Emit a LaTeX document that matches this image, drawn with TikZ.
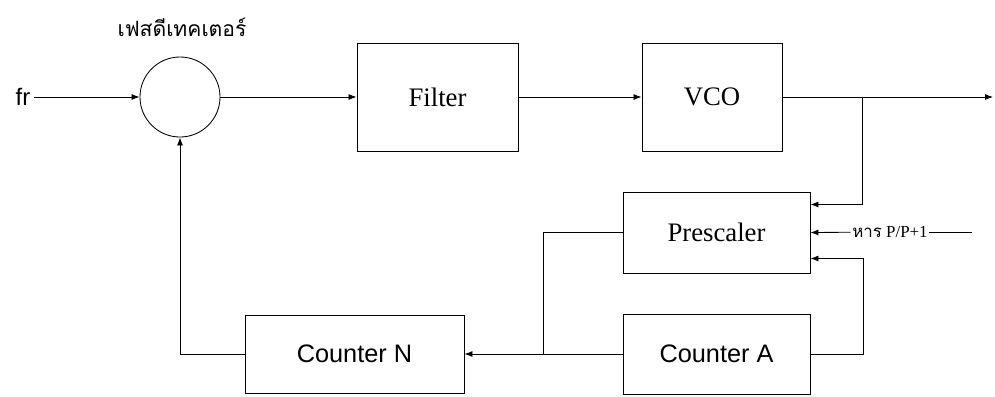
\documentclass[tikz,border=0pt]{standalone}
\usepackage{fontspec}
\setmainfont{Liberation Serif}
\newfontfamily\arialfont{Liberation Sans}
\newfontfamily\thaifont[Script=Thai]{Loma}
\usetikzlibrary{arrows.meta,calc}

\begin{document}
\begin{tikzpicture}[x=0.025cm, y=-0.025cm, line width=0.6pt,
    >={Latex[length=2mm,width=1.5mm]},
    block/.style={draw, inner sep=0pt, font=\fontsize{19}{21}\selectfont},
    counter/.style={draw, inner sep=0pt, font=\arialfont\fontsize{18}{20}\selectfont},
    smalllabel/.style={inner sep=1pt, font=\fontsize{12}{14}\selectfont}]
  \useasboundingbox (0,0) rectangle (995,396);

  \node[circle, draw, minimum size=2cm, inner sep=0pt] (pd) at (180,97) {};
  \node[font=\thaifont\fontsize{15}{17}\selectfont] (pdlabel) at (182,27) {เฟสดีเทคเตอร์};
  \node[font=\arialfont\fontsize{17}{19}\selectfont, inner sep=2pt] (fr) at (23,97) {fr};
  \node[block, minimum width=4.025cm, minimum height=2.7cm] (filter) at (437.5,97) {Filter};
  \node[block, minimum width=3.5cm, minimum height=2.7cm] (vco) at (712,97) {VCO};
  \node[block, minimum width=4.675cm, minimum height=2.025cm] (pre) at (716.5,232.5) {Prescaler};
  \node[counter, minimum width=4.675cm, minimum height=2cm] (cntA) at (716.5,354) {Counter A};
  \node[counter, minimum width=5.475cm, minimum height=1.95cm] (cntN) at (354.5,354) {Counter N};
  \node[smalllabel] (div) at (890,232) {{\thaifont หาร}\ P/P+1};

  \coordinate (tap) at (862,97);
  \coordinate (out) at (993,97);
  \coordinate (divin) at (972,232);
  \coordinate (join) at (543,354);

  \draw[->] (fr.east) -- (pd.west);
  \draw[->] (pd) -- (filter);
  \draw[->] (filter) -- (vco);
  \draw[->] (vco) -- (out);
  \draw[->] (tap) |- ($(pre.east)+(0,-28)$);
  \draw (divin) -- (div);
  \draw[->] (div) -- (pre.east);
  \draw[->] (cntA.east) -- ++(53,0) |- ($(pre.east)+(0,26)$);
  \draw (pre.west) -| (join);
  \draw[->] (cntA) -- (cntN);
  \draw[->] (cntN.west) -| (pd.south);
\end{tikzpicture}
\end{document}
